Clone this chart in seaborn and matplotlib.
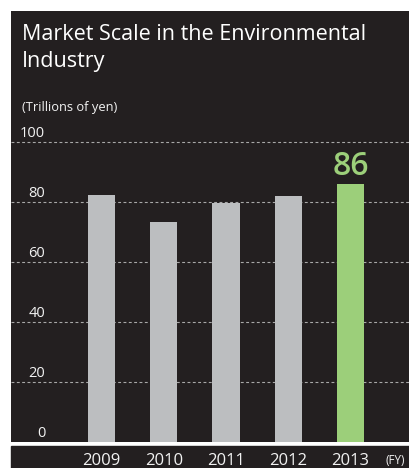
import matplotlib
matplotlib.use("Agg")
import matplotlib.pyplot as plt
import matplotlib.patches as mpatches
import seaborn as sns
import pandas as pd

# --- DATA ---
years = ["2009", "2010", "2011", "2012", "2013"]
market_scale = [82.4, 73.4, 79.8, 82.1, 86.0]
bar_colors = ["#bcbec0", "#bcbec0", "#bcbec0", "#bcbec0", "#9ccf7a"]
y_ticks = [0, 20, 40, 60, 80, 100]

BG = "#231f20"
W, H = 409, 468

sns.set_style("dark")
plt.rcParams["font.family"] = ["Open Sans", "DejaVu Sans"]

fig = plt.figure(figsize=(W / 100, H / 100), dpi=100, facecolor="white")

def fx(px):
    return px / W

def fy(py):
    return 1 - py / H

# bottom strip for year labels
fig.patches.append(mpatches.Rectangle((fx(11), 0), 1 - fx(11), fy(445.5),
                                      transform=fig.transFigure, color=BG, zorder=0))

# main panel: axes spans the whole dark area, 3 px per unit
zero_px, top_px = 442.3, 11
ax = fig.add_axes([fx(11), fy(zero_px), 1 - fx(11), fy(top_px) - fy(zero_px)])
ax.set_facecolor(BG)

df = pd.DataFrame({"year": years, "value": market_scale})
sns.barplot(data=df, x="year", y="value", hue="year", palette=bar_colors,
            width=0.434, saturation=1, legend=False, ax=ax, zorder=3,
            edgecolor="none", linewidth=0)

ax.set_ylim(0, (zero_px - top_px) / 3)
ax.set_xlim(-1.454, 4.94)

# dashed gridlines
for v in y_ticks[1:]:
    ax.axhline(v, color="#a8a8a8", lw=0.8, ls=(0, (2.6, 2.2)), zorder=1)
for v in y_ticks:
    ax.text(-0.905, v + 1.7, str(v), ha="right", va="baseline",
            color="#f2f2f2", fontsize=10.5)

# value label on the last bar
ax.text(4, market_scale[-1] + 3.2, f"{market_scale[-1]:.0f}", ha="center", va="baseline",
        color="#9ccf7a", fontsize=23, fontweight="semibold")

ax.set_xticks([])
ax.set_yticks([])
ax.set_xlabel("")
ax.set_ylabel("")
for s in ax.spines.values():
    s.set_visible(False)

# year labels in the bottom strip
for i, y in enumerate(years):
    xd = ax.transData.transform((i, 0))[0] / (W)
    fig.text(xd, fy(465), y, ha="center", va="baseline", color="#f2f2f2", fontsize=12)
fig.text(fx(385), fy(464), "(FY)", ha="left", va="baseline", color="#f2f2f2", fontsize=8.5)

# titles
fig.text(fx(22), fy(40), "Market Scale in the Environmental", ha="left", va="baseline",
         color="white", fontsize=15.5)
fig.text(fx(22), fy(66.7), "Industry", ha="left", va="baseline", color="white", fontsize=15.5)
fig.text(fx(22), fy(110.5), "(Trillions of yen)", ha="left", va="baseline",
         color="#f2f2f2", fontsize=9.3)

fig.savefig("out.png", dpi=100, facecolor="white")
